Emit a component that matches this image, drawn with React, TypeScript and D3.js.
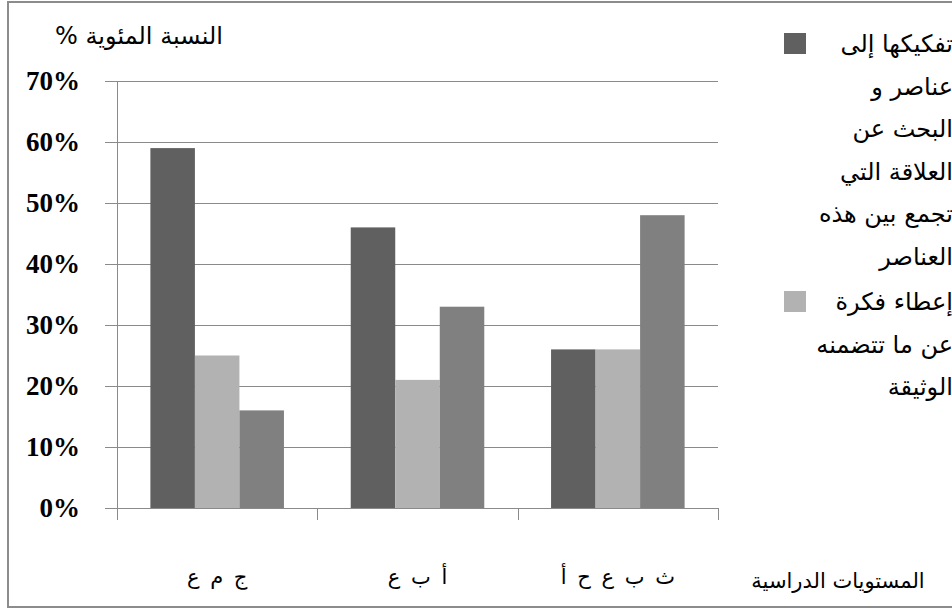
import React from "react";
import * as d3 from "d3";

// Study levels (x categories)
const categories = ["ج م ع", "أ ب ع", "ث ب ع ح أ"];
// Series values (share of responses)
const seriesDecompose = [0.59, 0.46, 0.26];
const seriesIdea = [0.25, 0.21, 0.26];
const seriesThird = [0.16, 0.33, 0.48];
const seriesColors = ["#606060", "#b2b2b2", "#808080"];
const yTicks = [0, 0.1, 0.2, 0.3, 0.4, 0.5, 0.6, 0.7];

// Legend text, wrapped as in the chart
const legendLinesA = [
  "تفكيكها إلى",
  "عناصر و",
  "البحث عن",
  "العلاقة التي",
  "تجمع بين هذه",
  "العناصر",
];
const legendLinesB = ["إعطاء فكرة", "عن ما تتضمنه", "الوثيقة"];

const yTitle = "النسبة المئوية %";
const xTitle = "المستويات الدراسية";

const W = 952;
const H = 610;
const plot = { left: 117, right: 718, top: 81, bottom: 508 };
const gridColor = "#8a8a8a";
const arabicFont = "'DejaVu Sans', Arial, sans-serif";

export default function App() {
  const series = [seriesDecompose, seriesIdea, seriesThird];
  const x = d3
    .scaleBand<string>()
    .domain(categories)
    .range([plot.left, plot.right])
    .padding(0);
  const inner = d3
    .scaleBand<number>()
    .domain([0, 1, 2])
    .range([0, x.bandwidth()])
    .paddingInner(0)
    .paddingOuter(0.75);
  const y = d3.scaleLinear().domain([0, 0.7]).range([plot.bottom, plot.top]);
  const fmt = d3.format(".0%");

  const tickXs = [...categories.map((c) => x(c) as number), plot.right];
  const legendStep = 42.6;

  return (
    <svg
      width={W}
      height={H}
      style={{ position: "absolute", left: 0, top: 0, background: "#fff" }}
    >
      <rect x={8} y={2} width={W + 10} height={605} fill="#fff" stroke="#8c8c8c" strokeWidth={2} />

      {/* gridlines and y ticks */}
      {yTicks.map((t) => (
        <g key={t}>
          <line
            x1={plot.left - 12}
            x2={plot.right}
            y1={Math.round(y(t)) + 0.5}
            y2={Math.round(y(t)) + 0.5}
            stroke={gridColor}
            strokeWidth={1}
          />
          <text
            x={80}
            y={y(t) + 9}
            textAnchor="end"
            fontFamily="'Liberation Serif', 'Times New Roman', serif"
            fontWeight="bold"
            fontSize={27}
            fill="#000"
          >
            {fmt(t)}
          </text>
        </g>
      ))}

      {/* y axis */}
      <line x1={plot.left + 0.5} x2={plot.left + 0.5} y1={plot.top} y2={plot.bottom + 12} stroke={gridColor} />
      {tickXs.map((tx, i) => (
        <line
          key={i}
          x1={Math.round(tx) + 0.5}
          x2={Math.round(tx) + 0.5}
          y1={plot.bottom}
          y2={plot.bottom + 12}
          stroke={gridColor}
        />
      ))}

      {/* bars */}
      {series.map((vals, si) =>
        vals.map((v, ci) => (
          <rect
            key={`${si}-${ci}`}
            x={(x(categories[ci]) as number) + (inner(si) as number)}
            y={y(v)}
            width={inner.bandwidth()}
            height={y(0) - y(v)}
            fill={seriesColors[si]}
          />
        ))
      )}

      {/* category labels */}
      {categories.map((c) => (
        <text
          key={c}
          x={(x(c) as number) + x.bandwidth() / 2}
          y={584}
          textAnchor="middle"
          fontFamily={arabicFont}
          fontSize={21}
          wordSpacing={4}
          fill="#000"
        >
          {c}
        </text>
      ))}

      {/* axis titles */}
      <text
        x={139}
        y={44}
        textAnchor="middle"
        direction="rtl"
        fontFamily={arabicFont}
        fontSize={24}
        fill="#000"
      >
        {yTitle}
      </text>
      <text
        x={838}
        y={588}
        textAnchor="middle"
        fontFamily={arabicFont}
        fontSize={21}
        fill="#000"
      >
        {xTitle}
      </text>

      {/* legend */}
      <rect x={784} y={33} width={22} height={21} fill={seriesColors[0]} />
      {legendLinesA.map((l, i) => (
        <text
          key={l}
          x={953}
          y={52 + i * legendStep}
          textAnchor="end"
          fontFamily={arabicFont}
          fontSize={24}
          fill="#000"
        >
          {l}
        </text>
      ))}
      <rect x={784} y={291} width={22} height={21} fill={seriesColors[1]} />
      {legendLinesB.map((l, i) => (
        <text
          key={l}
          x={953}
          y={310 + i * legendStep}
          textAnchor="end"
          fontFamily={arabicFont}
          fontSize={24}
          fill="#000"
        >
          {l}
        </text>
      ))}
    </svg>
  );
}
